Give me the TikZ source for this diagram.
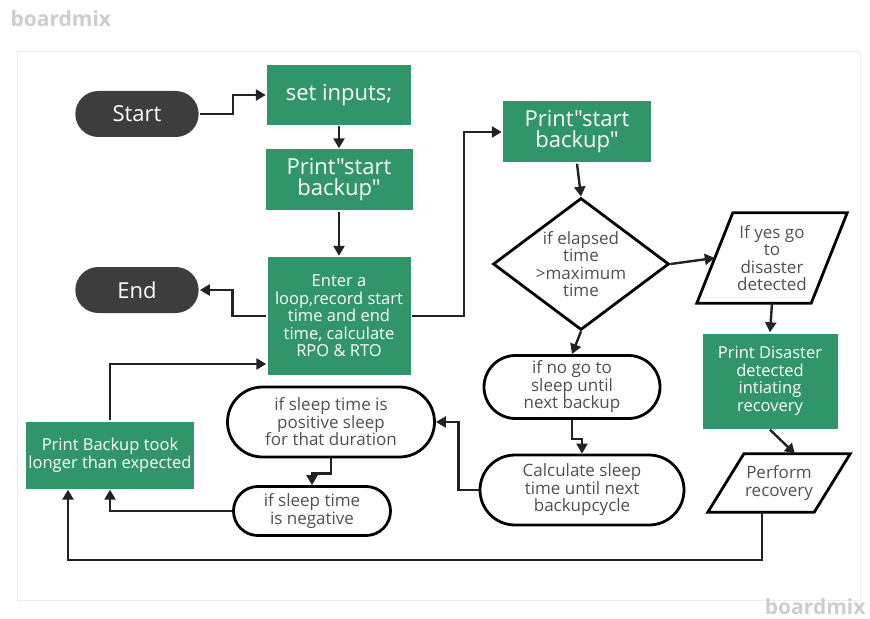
\documentclass[tikz,border=0pt]{standalone}
\usepackage{fontspec}
\setmainfont{Open Sans}[Ligatures=TeXOff]
\usepackage{tikz}
\usetikzlibrary{arrows.meta,shapes.geometric,shapes.misc}

\definecolor{boxgreen}{HTML}{31956A}
\definecolor{termgray}{HTML}{3D3D3D}
\definecolor{txtgray}{HTML}{505050}
\definecolor{markgray}{HTML}{CDCDCD}
\definecolor{framegray}{HTML}{ECECEC}
\definecolor{linkblack}{HTML}{222222}

\newcommand{\bigtxt}{\fontsize{22}{21}\selectfont}
\newcommand{\midtxt}{\fontsize{16.5}{17.5}\selectfont}
\newcommand{\smalltxt}{\fontsize{17}{17.5}\selectfont}

\begin{document}
\begin{tikzpicture}[x=1pt, y=-1pt, ->, >={Triangle[length=10pt,width=11pt]}, line width=2.4pt]
\tikzstyle{terminal} = [rounded rectangle, fill=termgray, text=white, minimum width=130, minimum height=46, font=\bigtxt]
\tikzstyle{process} = [rectangle, fill=boxgreen, text=white, align=center, inner sep=2pt]
\tikzstyle{decision} = [diamond, draw=black, line width=2.8pt, text=txtgray, align=center, font=\smalltxt, aspect=1.33, inner sep=-3pt, minimum width=176, minimum height=132]
\tikzstyle{sleepbox} = [rounded rectangle, draw=black, line width=2.8pt, text=txtgray, align=center, font=\smalltxt, inner sep=2pt]
\tikzstyle{io} = [rectangle, text=txtgray, align=center, font=\smalltxt, append after command={\pgfextra{\draw[-, line width=2.8pt, line join=miter] ([xshift=18pt]\tikzlastnode.north west) -- ([xshift=18pt]\tikzlastnode.north east) -- ([xshift=-18pt]\tikzlastnode.south east) -- ([xshift=-18pt]\tikzlastnode.south west) -- cycle;}}]
\tikzstyle{link} = [draw=linkblack]
\tikzstyle{watermark} = [text=markgray, font=\fontsize{21}{22}\selectfont\bfseries]

\fill[white] (0,0) rectangle (870,617);
\draw[-, framegray, line width=1pt] (17,52) rectangle (860,600);
\node[watermark, anchor=west] (mark1) at (6,19) {boardmix};
\node[watermark, anchor=east] (mark2) at (870,607) {boardmix};

% left column
\node[terminal] (start) at (137,114) {Start};
\node[process, font=\bigtxt, minimum width=144, minimum height=60] (inputs) at (339,95) {set inputs;};
\node[process, font=\bigtxt, minimum width=147, minimum height=61] (print1) at (339,180) {Print"start\\backup"};
\node[process, font=\midtxt, minimum width=143, minimum height=118] (loop) at (339,316) {Enter a\\loop,record start\\time and end\\time, calculate\\RPO \& RTO};
\node[terminal] (end) at (137,290) {End};
\node[process, font=\midtxt, minimum width=166, minimum height=67] (late) at (110,455) {Print Backup took\\longer than expected};

% sleep branch
\node[sleepbox, minimum width=211, minimum height=70] (positive) at (331,422) {if sleep time is\\positive sleep\\for that duration};
\node[sleepbox, minimum width=161, minimum height=49] (negative) at (312,511) {if sleep time\\is negative};
\node[sleepbox, minimum width=180, minimum height=63] (nosleep) at (572,387) {if no go to\\sleep until\\next backup};
\node[sleepbox, minimum width=208, minimum height=70] (calc) at (582,490) {Calculate sleep\\time until next\\backupcycle};

% right side
\node[process, font=\bigtxt, minimum width=148, minimum height=61] (print2) at (577,132) {Print"start\\backup"};
\node[decision] (check) at (581,264) {if elapsed\\time\\>maximum\\time};
\node[io, minimum width=112, minimum height=88] (yes) at (772,258) {If yes go\\to\\disaster\\detected};
\node[process, font=\midtxt, minimum width=135, minimum height=95] (disaster) at (770,381) {Print Disaster\\detected\\intiating\\recovery};
\node[io, minimum width=104, minimum height=56] (recover) at (779,483) {Perform\\recovery};
\coordinate (back) at (68,560);

\draw[link] (start.east) -- ++(33,0) |- (inputs.west);
\draw[link] (inputs) -- (print1);
\draw[link] (print1) -- (loop);
\draw[link] (loop.west) -- ++(-34,0) |- (end.east);
\draw[link] (loop.east) -- ++(52,0) |- (print2.west);
\draw[link] (print2.south) -- (check.north);
\draw[link] (check.east) -- (yes.west);
\draw[link] (yes.south) -- (disaster.north);
\draw[link] (disaster.south) -- ([xshift=16pt]recover.north);
\draw[link] ([xshift=-17pt]recover.south) |- (back) -- ([xshift=-42pt]late.south);
\draw[link] (late.north) |- ([yshift=-48pt]loop.west);
\draw[link] (check.south) -- (nosleep.north);
\draw[link] (nosleep.south) -- ++(0,19) -| (calc.north);
\draw[link] (calc.west) -- ++(-20,0) |- (positive.east);
\draw[link] (positive.south) -- ++(0,15) -| (negative.north);
\draw[link] (negative.west) -| (late.south);
\end{tikzpicture}
\end{document}
